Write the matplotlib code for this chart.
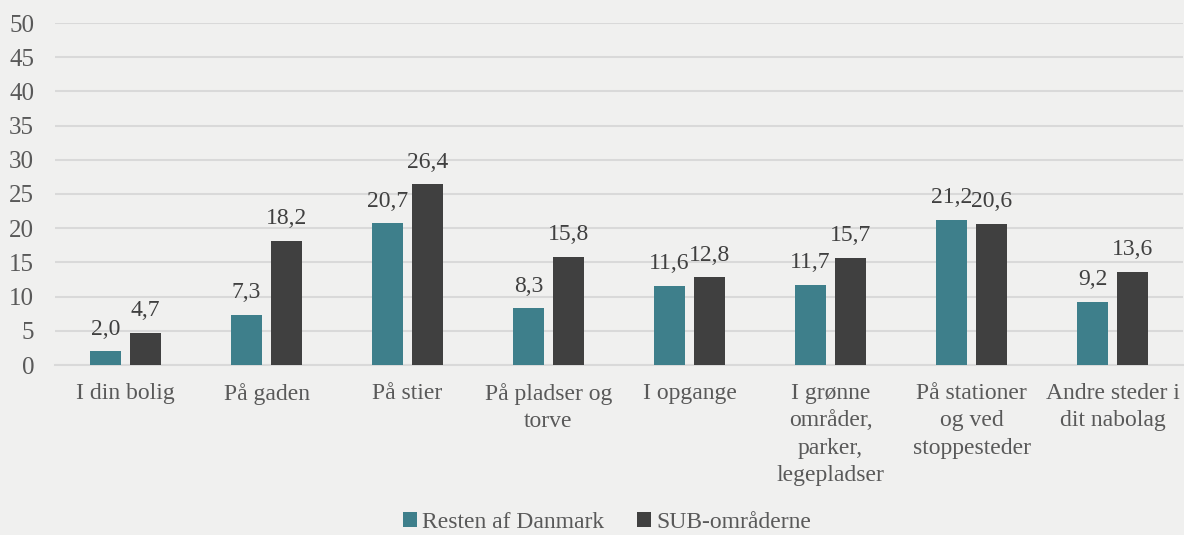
import numpy as np
import matplotlib
matplotlib.use("Agg")
import matplotlib.pyplot as plt

categories = [
    "I din bolig",
    "På gaden",
    "På stier",
    "På pladser og\ntorve",
    "I opgange",
    "I grønne\nområder,\nparker,\nlegepladser",
    "På stationer\nog ved\nstoppesteder",
    "Andre steder i\ndit nabolag",
]
resten = [2.0, 7.3, 20.7, 8.3, 11.6, 11.7, 21.2, 9.2]
sub = [4.7, 18.2, 26.4, 15.8, 12.8, 15.7, 20.6, 13.6]
series_names = ["Resten af Danmark", "SUB-områderne"]

BG = "#f0f0ef"
TEAL = "#3e7f8b"
DARK = "#404040"
GRID = "#d9d9d9"
TICK = "#595959"

plt.rcParams["font.family"] = ["Liberation Serif", "DejaVu Serif"]

fig = plt.figure(figsize=(11.84, 5.35), dpi=100, facecolor=BG)
ax = fig.add_axes([55 / 1184, 1 - 365 / 535, 1128 / 1184, 342 / 535], facecolor=BG)

x = np.arange(len(categories))
width = 0.22
offset = 0.142

b1 = ax.bar(x - offset, resten, width, color=TEAL, label=series_names[0], zorder=3)
b2 = ax.bar(x + offset, sub, width, color=DARK, label=series_names[1], zorder=3)

for bars in (b1, b2):
    for rect in bars:
        h = rect.get_height()
        ax.annotate(
            f"{h:.1f}".replace(".", ","),
            (rect.get_x() + rect.get_width() / 2, h),
            xytext=(0, 12),
            textcoords="offset points",
            ha="center",
            va="baseline",
            fontsize=17,
            color=DARK,
        )

ax.set_xlim(-0.5, len(categories) - 0.5)
ax.set_ylim(0, 50)
ax.set_yticks(range(0, 51, 5))
ax.yaxis.grid(True, color=GRID, linewidth=1.5, zorder=0)
ax.set_axisbelow(True)

ax.set_xticks(x)
ax.set_xticklabels(categories, fontsize=17, color=TICK, linespacing=1.4)
ax.tick_params(axis="y", labelsize=18, labelcolor=TICK, length=0, pad=15)
ax.tick_params(axis="x", length=0, pad=13)

for side in ("top", "right", "left"):
    ax.spines[side].set_visible(False)
ax.spines["bottom"].set_color(GRID)
ax.spines["bottom"].set_linewidth(1.5)

fig.legend(
    handles=[b1, b2],
    labels=series_names,
    loc="center",
    bbox_to_anchor=(607 / 1184, 1 - 522 / 535),
    ncol=2,
    frameon=False,
    fontsize=17,
    labelcolor=TICK,
    handlelength=0.6,
    handleheight=0.6,
    handletextpad=0.2,
    columnspacing=1.4,
    borderpad=0.2,
)

fig.savefig("out.png", dpi=100, facecolor=BG)
